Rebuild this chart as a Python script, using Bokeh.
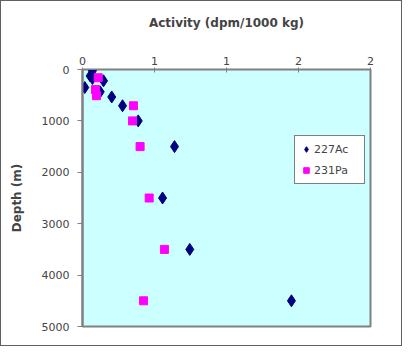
from bokeh.plotting import figure
from bokeh.models import Range1d, FixedTicker, Legend, LegendItem
from bokeh.embed import file_html
from bokeh.resources import INLINE

# Data
ac_activity = [0.069, 0.053, 0.069, 0.146, 0.016, 0.123, 0.203, 0.278, 0.387, 0.639, 0.556, 0.745, 1.451]
ac_depth = [25, 125, 175, 220, 350, 435, 535, 705, 1000, 1500, 2500, 3500, 4500]
pa_activity = [0.109, 0.090, 0.097, 0.354, 0.347, 0.400, 0.463, 0.569, 0.424]
pa_depth = [160, 390, 510, 705, 1000, 1500, 2500, 3500, 4500]

x_ticks = [0, 0.5, 1, 1.5, 2]
x_tick_labels = ["0", "1", "1", "2", "2"]
y_ticks = [0, 1000, 2000, 3000, 4000, 5000]

FONT = "DejaVu Sans"

p = figure(width=402, height=346, output_backend="svg", toolbar_location=None,
           x_range=Range1d(0, 2), y_range=Range1d(5000, 0),
           x_axis_location="above",
           min_border_left=81, min_border_right=33, min_border_top=68, min_border_bottom=21,
           background_fill_color="#CCFFFF", border_fill_color="white",
           outline_line_color="#808080", outline_line_width=2)
p.styles = {"border": "1px solid #606060"}
p.grid.visible = False

xa = p.xaxis[0]
xa.ticker = FixedTicker(ticks=x_ticks)
xa.major_label_overrides = {t: l for t, l in zip(x_ticks, x_tick_labels)}
xa.axis_label = "Activity (dpm/1000 kg)"
xa.axis_label_text_font = FONT
xa.axis_label_text_font_style = "bold"
xa.axis_label_text_font_size = "12px"
xa.axis_label_standoff = 24
xa.major_label_text_font = FONT
xa.major_label_text_font_size = "11px"
xa.major_label_standoff = 3
xa.major_tick_in = 3
xa.major_tick_out = 2
xa.minor_tick_line_color = None
xa.axis_line_color = "#808080"
xa.major_tick_line_color = "#808080"

ya = p.yaxis[0]
ya.ticker = FixedTicker(ticks=y_ticks)
ya.axis_label = "Depth (m)"
ya.axis_label_text_font = FONT
ya.axis_label_text_font_style = "bold"
ya.axis_label_text_font_size = "12px"
ya.axis_label_standoff = 15
ya.major_label_text_font = FONT
ya.major_label_text_font_size = "11px"
ya.major_label_standoff = 8
ya.major_tick_in = 0
ya.major_tick_out = 5
ya.minor_tick_line_color = None
ya.axis_line_color = "#808080"
ya.axis_line_width = 2
ya.major_tick_line_color = "#808080"

r_ac = p.scatter(ac_activity, ac_depth, marker="diamond", size=12,
                 fill_color="#000080", line_color="#000080")
r_pa = p.scatter(pa_activity, pa_depth, marker="square", size=8,
                 fill_color="#FF00FF", line_color="#FF00FF")

legend = Legend(items=[LegendItem(label="227Ac", renderers=[r_ac]),
                       LegendItem(label="231Pa", renderers=[r_pa])],
                location=(212, 142), padding=4, spacing=3, margin=0,
                glyph_width=14, glyph_height=14, label_height=18, label_width=46,
                label_standoff=1, label_text_font=FONT, label_text_font_size="11px",
                border_line_color="black", border_line_width=1,
                background_fill_color="white", background_fill_alpha=1)
p.add_layout(legend, "center")

open("out.html", "w").write(file_html(p, INLINE))
